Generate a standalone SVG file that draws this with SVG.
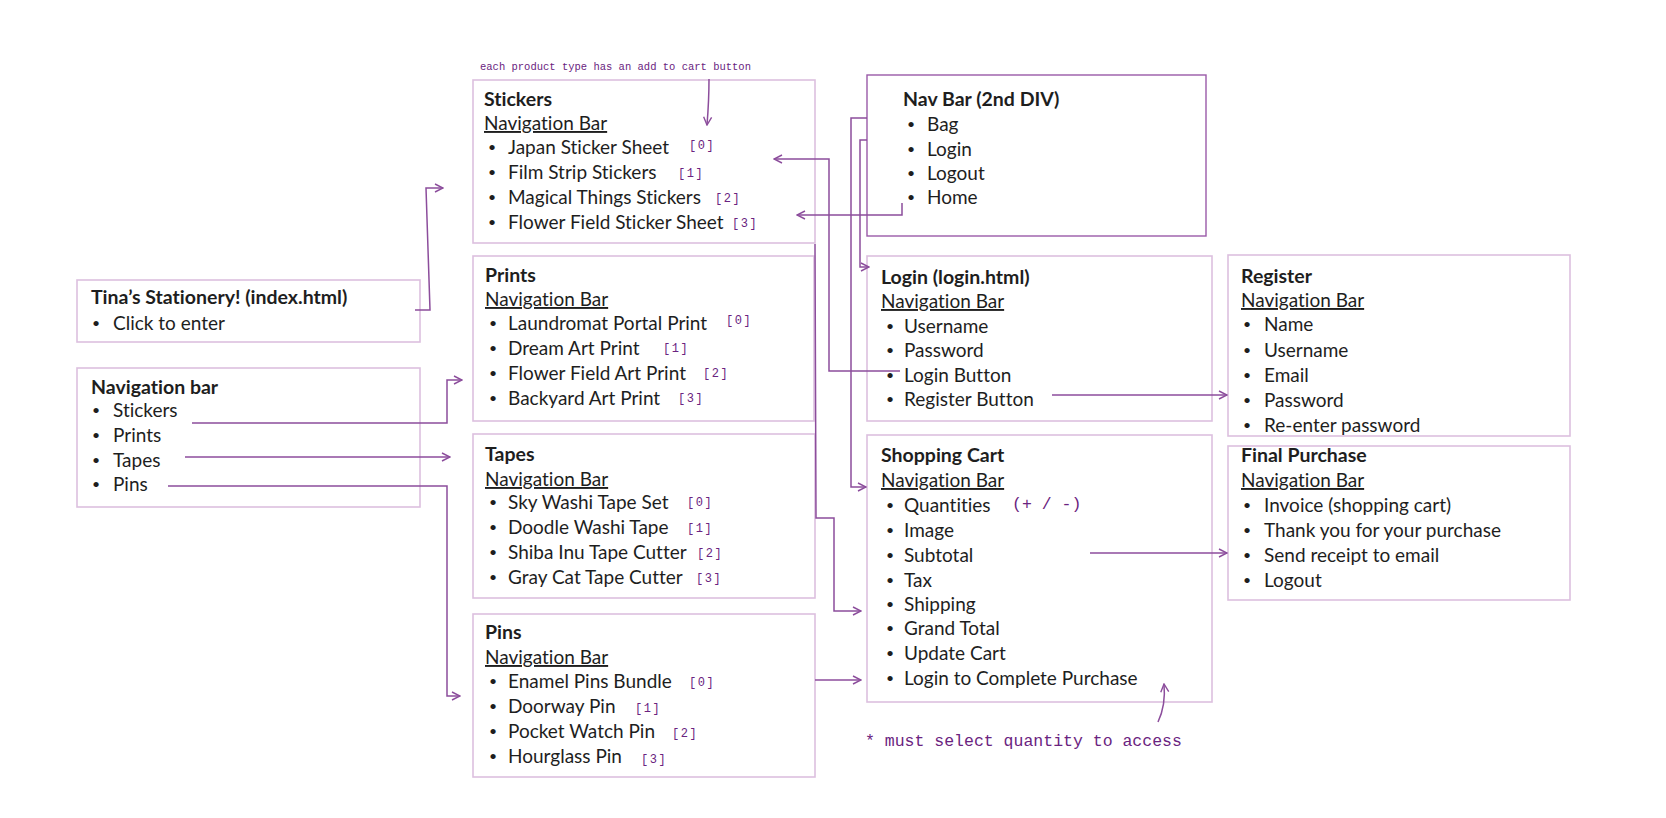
<svg xmlns="http://www.w3.org/2000/svg" width="1666" height="818" viewBox="0 0 1666 818">
<defs>
<style>
.box{fill:#fff;stroke:#dcc0df;stroke-width:1.6}
.box2{fill:#fff;stroke:#9a5aa8;stroke-width:1.4}
text{font-family:Lato,"Liberation Sans",sans-serif;font-size:19px;fill:#1e1e1e;font-variant-ligatures:none;font-feature-settings:"liga" 0,"dlig" 0}
.t{font-weight:bold;font-size:19.5px}
.u{text-decoration:underline}
.b{font-size:14px}
.c{fill:none;stroke:#8c4d9c;stroke-width:1.5}
.h{font-family:"Liberation Mono",monospace;fill:#6a2380;font-size:10.5px}
.k{font-family:"Liberation Mono",monospace;fill:#6a2380;font-size:12px;letter-spacing:1.5px}
.hb{font-family:"Liberation Mono",monospace;fill:#6a2380;font-size:16.5px}
</style>
<marker id="a" viewBox="0 0 10 10" refX="9" refY="5" markerWidth="10" markerHeight="10" markerUnits="userSpaceOnUse" orient="auto">
<path d="M1,1 L9,5 L1,9" fill="none" stroke="#8c4d9c" stroke-width="1.4"/>
</marker>
</defs>
<rect width="1666" height="818" fill="#fff"/>

<g id="tina">
<rect class="box" x="77" y="280" width="343" height="62"/>
<text class="t" x="91" y="304">Tina’s Stationery! (index.html)</text>
<text class="b" x="92" y="328">•</text><text x="113" y="330">Click to enter</text>
</g>

<g id="navbar">
<rect class="box" x="77" y="368" width="343" height="139"/>
<text class="t" x="91" y="394">Navigation bar</text>
<text class="b" x="92" y="415">•</text><text x="113" y="417">Stickers</text>
<text class="b" x="92" y="440">•</text><text x="113" y="442">Prints</text>
<text class="b" x="92" y="465">•</text><text x="113" y="467">Tapes</text>
<text class="b" x="92" y="489">•</text><text x="113" y="491">Pins</text>
</g>

<g id="stickers">
<rect class="box" x="473" y="80" width="342" height="163"/>
<text class="t" x="484" y="106">Stickers</text>
<text class="u" x="484" y="130">Navigation Bar</text>
<text class="b" x="488" y="152">•</text><text x="508" y="154">Japan Sticker Sheet</text>
<text class="b" x="488" y="177">•</text><text x="508" y="179">Film Strip Stickers</text>
<text class="b" x="488" y="202">•</text><text x="508" y="204">Magical Things Stickers</text>
<text class="b" x="488" y="227">•</text><text x="508" y="229">Flower Field Sticker Sheet</text>
<text class="k" x="689" y="149">[0]</text>
<text class="k" x="678" y="177">[1]</text>
<text class="k" x="715" y="202">[2]</text>
<text class="k" x="732" y="227">[3]</text>
</g>

<g id="prints">
<rect class="box" x="473" y="256" width="341" height="165"/>
<text class="t" x="485" y="282">Prints</text>
<text class="u" x="485" y="306">Navigation Bar</text>
<text class="b" x="489" y="328">•</text><text x="508" y="330">Laundromat Portal Print</text>
<text class="b" x="489" y="353">•</text><text x="508" y="355">Dream Art Print</text>
<text class="b" x="489" y="378">•</text><text x="508" y="380">Flower Field Art Print</text>
<text class="b" x="489" y="403">•</text><text x="508" y="405">Backyard Art Print</text>
<text class="k" x="726" y="324">[0]</text>
<text class="k" x="663" y="352">[1]</text>
<text class="k" x="703" y="377">[2]</text>
<text class="k" x="678" y="402">[3]</text>
</g>

<g id="tapes">
<rect class="box" x="473" y="434" width="342" height="164"/>
<text class="t" x="485" y="461">Tapes</text>
<text class="u" x="485" y="486">Navigation Bar</text>
<text class="b" x="489" y="507">•</text><text x="508" y="509">Sky Washi Tape Set</text>
<text class="b" x="489" y="532">•</text><text x="508" y="534">Doodle Washi Tape</text>
<text class="b" x="489" y="557">•</text><text x="508" y="559">Shiba Inu Tape Cutter</text>
<text class="b" x="489" y="582">•</text><text x="508" y="584">Gray Cat Tape Cutter</text>
<text class="k" x="687" y="506">[0]</text>
<text class="k" x="687" y="532">[1]</text>
<text class="k" x="697" y="557">[2]</text>
<text class="k" x="696" y="582">[3]</text>
</g>

<g id="pins">
<rect class="box" x="473" y="614" width="342" height="163"/>
<text class="t" x="485" y="639">Pins</text>
<text class="u" x="485" y="664">Navigation Bar</text>
<text class="b" x="489" y="686">•</text><text x="508" y="688">Enamel Pins Bundle</text>
<text class="b" x="489" y="711">•</text><text x="508" y="713">Doorway Pin</text>
<text class="b" x="489" y="736">•</text><text x="508" y="738">Pocket Watch Pin</text>
<text class="b" x="489" y="761">•</text><text x="508" y="763">Hourglass Pin</text>
<text class="k" x="689" y="686">[0]</text>
<text class="k" x="635" y="712">[1]</text>
<text class="k" x="672" y="737">[2]</text>
<text class="k" x="641" y="763">[3]</text>
</g>

<g id="navbar2">
<rect class="box2" x="867" y="75" width="339" height="161"/>
<text class="t" x="903" y="106">Nav Bar (2nd DIV)</text>
<text class="b" x="907" y="129">•</text><text x="927" y="131">Bag</text>
<text class="b" x="907" y="154">•</text><text x="927" y="156">Login</text>
<text class="b" x="907" y="178">•</text><text x="927" y="180">Logout</text>
<text class="b" x="907" y="202">•</text><text x="927" y="204">Home</text>
</g>

<g id="login">
<rect class="box" x="867" y="256" width="345" height="165"/>
<text class="t" x="881" y="284">Login (login.html)</text>
<text class="u" x="881" y="308">Navigation Bar</text>
<text class="b" x="886" y="331">•</text><text x="904" y="333">Username</text>
<text class="b" x="886" y="355">•</text><text x="904" y="357">Password</text>
<text class="b" x="886" y="380">•</text><text x="904" y="382">Login Button</text>
<text class="b" x="886" y="404">•</text><text x="904" y="406">Register Button</text>
</g>

<g id="cart">
<rect class="box" x="867" y="435" width="345" height="267"/>
<text class="t" x="881" y="462">Shopping Cart</text>
<text class="u" x="881" y="487">Navigation Bar</text>
<text class="b" x="886" y="510">•</text><text x="904" y="512">Quantities</text>
<text class="b" x="886" y="535">•</text><text x="904" y="537">Image</text>
<text class="b" x="886" y="560">•</text><text x="904" y="562">Subtotal</text>
<text class="b" x="886" y="585">•</text><text x="904" y="587">Tax</text>
<text class="b" x="886" y="609">•</text><text x="904" y="611">Shipping</text>
<text class="b" x="886" y="633">•</text><text x="904" y="635">Grand Total</text>
<text class="b" x="886" y="658">•</text><text x="904" y="660">Update Cart</text>
<text class="b" x="886" y="683">•</text><text x="904" y="685">Login to Complete Purchase</text>
<text class="hb" x="1012" y="509" font-size="20px">(+ / -)</text>
</g>

<g id="register">
<rect class="box" x="1228" y="255" width="342" height="181"/>
<text class="t" x="1241" y="283">Register</text>
<text class="u" x="1241" y="307">Navigation Bar</text>
<text class="b" x="1243" y="329">•</text><text x="1264" y="331">Name</text>
<text class="b" x="1243" y="355">•</text><text x="1264" y="357">Username</text>
<text class="b" x="1243" y="380">•</text><text x="1264" y="382">Email</text>
<text class="b" x="1243" y="405">•</text><text x="1264" y="407">Password</text>
<text class="b" x="1243" y="430">•</text><text x="1264" y="432">Re-enter password</text>
</g>

<g id="final">
<rect class="box" x="1228" y="446" width="342" height="154"/>
<text class="t" x="1241" y="462">Final Purchase</text>
<text class="u" x="1241" y="487">Navigation Bar</text>
<text class="b" x="1243" y="510">•</text><text x="1264" y="512">Invoice (shopping cart)</text>
<text class="b" x="1243" y="535">•</text><text x="1264" y="537">Thank you for your purchase</text>
<text class="b" x="1243" y="560">•</text><text x="1264" y="562">Send receipt to email</text>
<text class="b" x="1243" y="585">•</text><text x="1264" y="587">Logout</text>
</g>

<g id="notes">
<text class="h" x="480" y="70">each product type has an add to cart button</text>
<text class="hb" x="865" y="746">* must select quantity to access</text>
</g>

<g id="connectors">
<path class="c" d="M415,310 L430,310 L426,188 L443,188" marker-end="url(#a)"/>
<path class="c" d="M192,423 L447,423 L447,380 L462,380" marker-end="url(#a)"/>
<path class="c" d="M185,457 L450,457" marker-end="url(#a)"/>
<path class="c" d="M168,486 L447,486 L447,696 L460,696" marker-end="url(#a)"/>
<path class="c" d="M902,203 L902,215 L797,215" marker-end="url(#a)"/>
<path class="c" d="M867,118 L851,118 L851,487 L866,487" marker-end="url(#a)"/>
<path class="c" d="M867,140 L860,140 L860,267 L869,267" marker-end="url(#a)"/>
<path class="c" d="M900,371 L829,371 L829,159 L774,159" marker-end="url(#a)"/>
<path class="c" d="M815,244 L816,518 L834,518 L834,611 L861,611" marker-end="url(#a)"/>
<path class="c" d="M815,680 L861,680" marker-end="url(#a)"/>
<path class="c" d="M1052,395 L1227,395" marker-end="url(#a)"/>
<path class="c" d="M1090,553 L1227,553" marker-end="url(#a)"/>
<path class="c" d="M709,79 Q709,100 707,125" marker-end="url(#a)"/>
<path class="c" d="M1158,722 Q1166,705 1164,684" marker-end="url(#a)"/>
</g>
</svg>
